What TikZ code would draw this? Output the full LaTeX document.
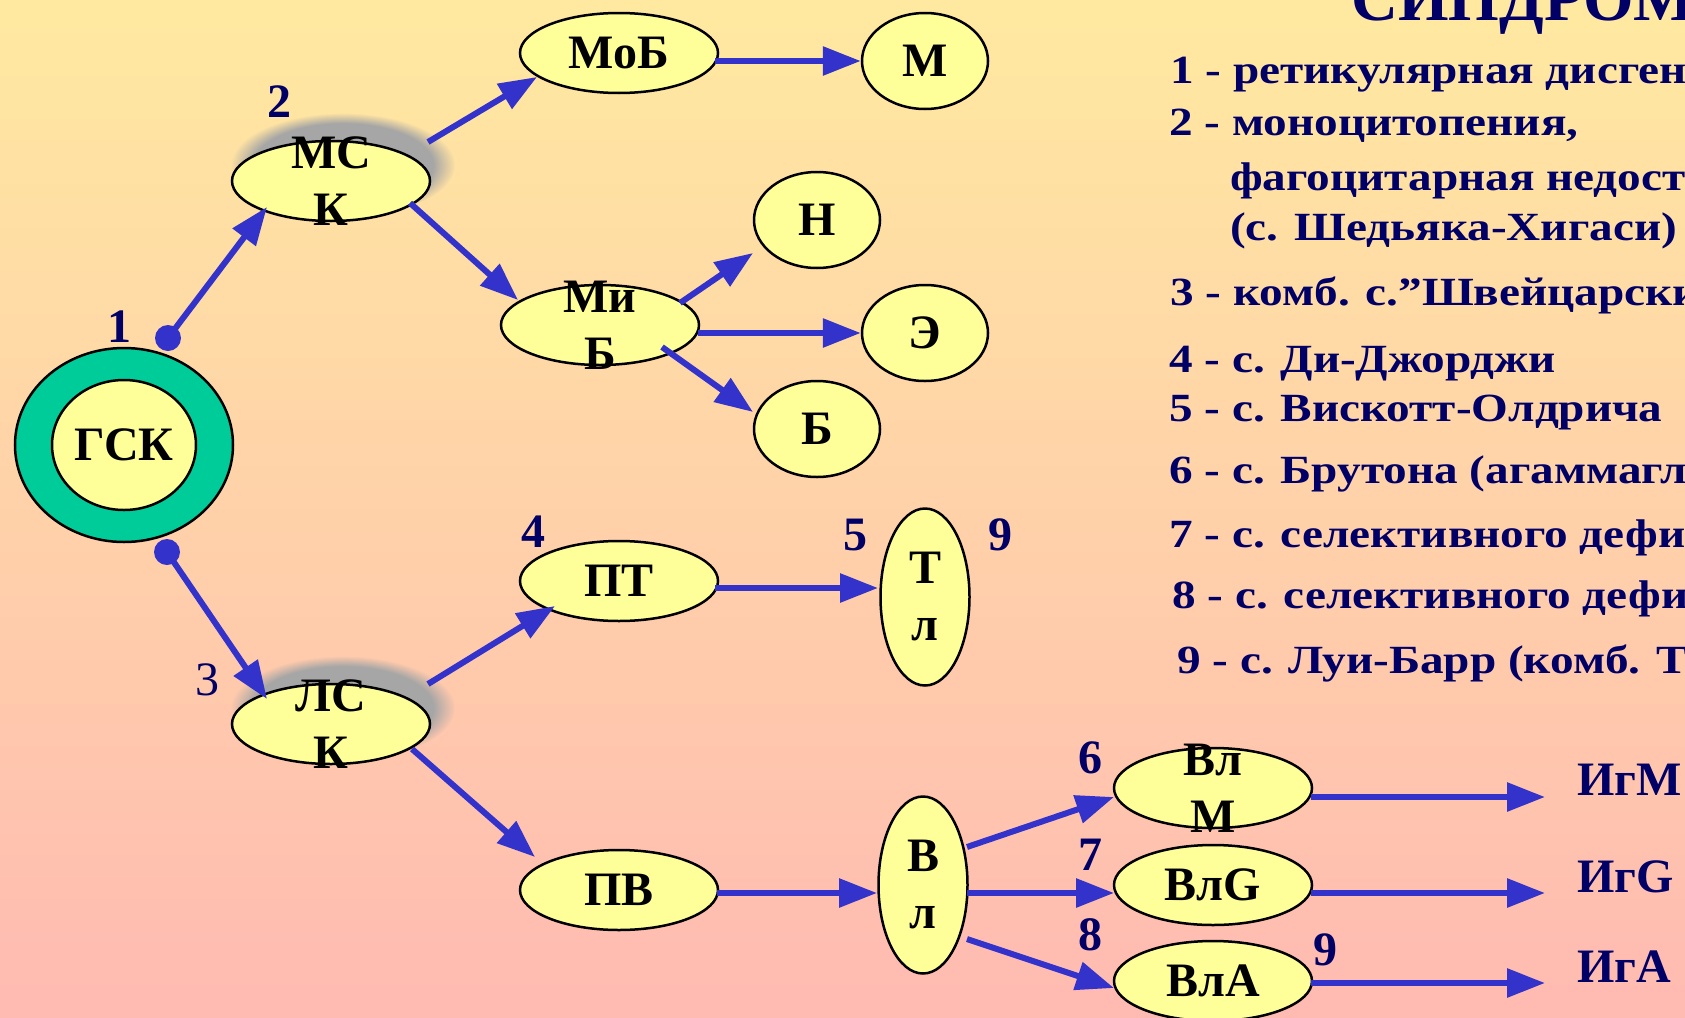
\documentclass[tikz,border=0pt]{standalone}
\usepackage{fontspec}
\setmainfont{Liberation Serif}
\newfontfamily\legendfont[FakeStretch=1.18]{Liberation Serif}
\usetikzlibrary{shapes.geometric, arrows.meta, positioning, backgrounds, calc, fadings}
\definecolor{bgtop}{RGB}{255,233,160}
\definecolor{bgmid}{RGB}{255,212,170}
\definecolor{bgbot}{RGB}{255,186,178}
\definecolor{cellyellow}{RGB}{255,255,153}
\definecolor{stemgreen}{RGB}{0,204,153}
\definecolor{arrowblue}{RGB}{51,51,204}
\definecolor{inknavy}{RGB}{0,0,102}

\begin{document}
\begin{tikzpicture}[x=1pt, y=-1pt,
  cell/.style={ellipse, draw, line width=2.5pt, fill=cellyellow, inner sep=0pt, font=\bfseries\fontsize{48}{57}\selectfont},
  cellwide/.style={cell, minimum width=198pt, minimum height=80pt},
  cellround/.style={cell, minimum width=126pt, minimum height=96pt},
  celltall/.style={cell, minimum width=89pt, minimum height=177pt},
  celltxt/.style={align=center, inner sep=0pt, font=\bfseries\fontsize{48}{57}\selectfont},
  num/.style={text=inknavy, inner sep=0pt, font=\bfseries\fontsize{48}{57}\selectfont},
  igtxt/.style={anchor=base west, text=inknavy, inner sep=0pt, font=\bfseries\fontsize{48}{57}\selectfont},
  legend/.style={anchor=base west, text=inknavy, inner sep=0pt, font=\legendfont\bfseries\fontsize{40}{48}\selectfont},
  flow/.style={draw=arrowblue, line width=6pt, -{Triangle[length=38pt, width=28pt]}},
  dot/.style={circle, fill=arrowblue, minimum size=26pt, inner sep=0pt}
]
\path[use as bounding box] (0,0) rectangle (1685,1017);
\clip (0,0) rectangle (1685,1017);

% stem cell
\node[ellipse, draw, line width=2.5pt, fill=stemgreen, minimum width=218pt, minimum height=194pt] (gsk) at (124,445) {};
\node[cell, minimum width=144pt, minimum height=130pt] (gskin) at (gsk) {ГСК};
\node[dot] (d1) at (168,338) {};
\node[dot] (d2) at (167,552) {};

% myeloid branch
\node[cellwide, label={[celltxt]center:МС\\К}] (msk) at (331,181) {};
\node[cellwide] (mob) at (619,53) {МоБ};
\node[cellround] (m) at (925,61) {М};
\node[cellwide, label={[celltxt]center:Ми\\Б}] (mib) at (600,325) {};
\node[cellround] (n) at (817,220) {Н};
\node[cellround] (e) at (925,333) {Э};
\node[cellround] (b) at (817,429) {Б};

% lymphoid branch
\node[cellwide, label={[celltxt]center:ЛС\\К}] (lsk) at (331,724) {};
\node[cellwide] (pt) at (619,581) {ПТ};
\node[celltall, label={[celltxt]center:Т\\л}] (tl) at (925,597) {};
\node[cellwide] (pv) at (619,890) {ПВ};
\node[celltall, label={[celltxt]center:В\\л}] (vl) at (923,885) {};
\node[cellwide, label={[celltxt]center:Вл\\М}] (vlm) at (1213,788) {};
\node[cellwide] (vlg) at (1213,885) {ВлG};
\node[cellwide] (vla) at (1213,981) {ВлА};
\node[igtxt] (igm) at (1577,795) {ИгМ};
\node[igtxt] (igg) at (1577,892) {ИгG};
\node[igtxt] (iga) at (1577,982) {ИгА};

% defect numbers
\node[num] (n1) at (119,327) {1};
\node[num] (n2) at (279,102) {2};
\node[num, font=\fontsize{48}{57}\selectfont] (n3) at (207,680) {3};
\node[num] (n4) at (533,532) {4};
\node[num] (n5) at (855,535) {5};
\node[num] (n9a) at (1000,535) {9};
\node[num] (n6) at (1090,758) {6};
\node[num] (n7) at (1090,855) {7};
\node[num] (n8) at (1090,935) {8};
\node[num] (n9b) at (1325,950) {9};

% arrows
\draw[flow] (d1.center) -- ($(msk)+(-64,26)$);
\draw[flow] (d2.center) -- ($(lsk)+(-64,-25)$);
\draw[flow] ($(msk)+(97,-39)$) -- ($(mob)+(-82,24)$);
\draw[flow] ($(msk)+(79,22)$) -- ($(mib)+(-82,-25)$);
\draw[flow] ($(mob)+(96,8)$) -- (m.west);
\draw[flow] ($(mib)+(80,-22)$) -- ($(n)+(-64,33)$);
\draw[flow] ($(mib)+(98,8)$) -- (e.west);
\draw[flow] ($(mib)+(62,22)$) -- ($(b)+(-64,-17)$);
\draw[flow] ($(lsk)+(97,-40)$) -- ($(pt)+(-64,25)$);
\draw[flow] ($(lsk)+(81,25)$) -- ($(pv)+(-84,-33)$);
\draw[flow] ($(pt)+(96,7)$) -- ($(tl)+(-47,-9)$);
\draw[flow] ($(pv)+(98,3)$) -- ($(vl)+(-46,8)$);
\draw[flow] ($(vl)+(44,-38)$) -- ($(vlm)+(-99,9)$);
\draw[flow] ($(vl)+(44,8)$) -- ($(vlg)+(-99,8)$);
\draw[flow] ($(vl)+(44,54)$) -- ($(vla)+(-99,7)$);
\draw[flow] ($(vlm)+(98,9)$) -- ($(igm.base west)+(-32,2)$);
\draw[flow] ($(vlg)+(98,8)$) -- ($(igg.base west)+(-32,1)$);
\draw[flow] ($(vla)+(98,2)$) -- ($(iga.base west)+(-32,1)$);

% legend
\node[anchor=base west, text=inknavy, inner sep=0pt, font=\bfseries\fontsize{65}{70}\selectfont] (title) at (1351,20) {СИНДРОМ};
\node[legend] (leg1) at (1170,83) {1 - ретикулярная дисген};
\node[legend] (leg2) at (1169,135) {2 - моноцитопения,};
\node[legend] (leg2b) at (1230,190) {фагоцитарная недост};
\node[legend] (leg2c) at (1230,240) {(с. Шедьяка-Хигаси)};
\node[legend] (leg3) at (1170,305) {3 - комб. с.”Швейцарски};
\node[legend] (leg4) at (1169,372) {4 - с. Ди-Джорджи};
\node[legend] (leg5) at (1169,421) {5 - с. Вискотт-Олдрича};
\node[legend] (leg6) at (1169,483) {6 - с. Брутона (агаммагл};
\node[legend] (leg7) at (1169,547) {7 - с. селективного дефи};
\node[legend] (leg8) at (1172,608) {8 - с. селективного дефи};
\node[legend] (leg9) at (1177,673) {9 - с. Луи-Барр (комб. Т};

\begin{scope}[on background layer]
\shade[top color=bgtop, middle color=bgmid, bottom color=bgbot] (0,0) rectangle (1685,1017);
\fill[gray!70, path fading=circle with fuzzy edge 20 percent] ($(msk)+(12,-16)$) ellipse [x radius=112, y radius=52];
\fill[gray!70, path fading=circle with fuzzy edge 20 percent] ($(lsk)+(12,-16)$) ellipse [x radius=112, y radius=52];
\end{scope}
\end{tikzpicture}
\end{document}
